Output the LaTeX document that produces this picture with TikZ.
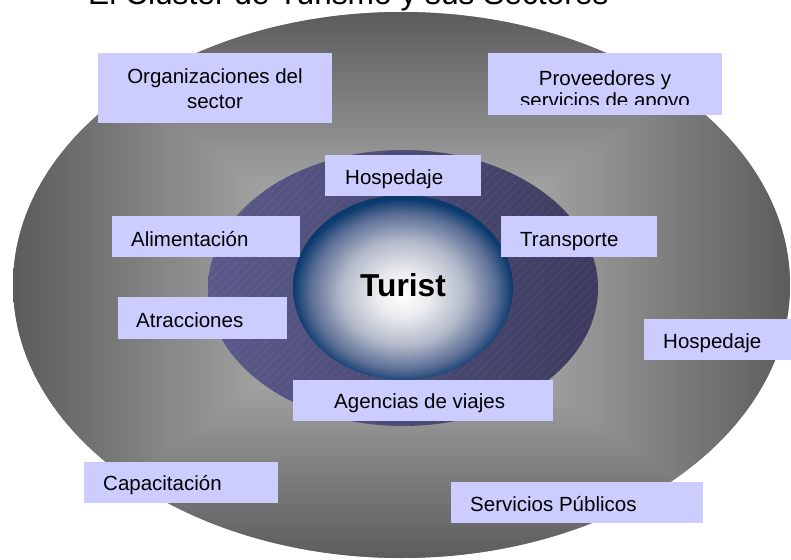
\documentclass[tikz,border=0pt]{standalone}
\usepackage{fontspec}
\setmainfont{Liberation Sans}
\usetikzlibrary{patterns.meta}
\definecolor{boxc}{HTML}{CCCCFF}
\definecolor{edgegray}{HTML}{5C5C5C}
\definecolor{halfgray}{HTML}{A4A4A4}
\definecolor{centergray}{HTML}{C8C8C8}
\definecolor{basegray}{HTML}{909090}
\definecolor{midleft}{HTML}{5B598A}
\definecolor{midright}{HTML}{3C3B5E}
\definecolor{tz}{HTML}{FFFFFF}
\definecolor{ta}{HTML}{ECECF0}
\definecolor{tb}{HTML}{B4BACA}
\definecolor{tc}{HTML}{5C6F96}
\definecolor{td}{HTML}{0B3A6E}
\pgfdeclareradialshading{turistshade}{\pgfpoint{0bp}{-2bp}}{color(0bp)=(tz); color(6bp)=(ta); color(14bp)=(tb); color(21bp)=(tc); color(25bp)=(td); color(50bp)=(td)}
\begin{document}
\begin{tikzpicture}[x=1pt,y=-1pt,
  lbl/.style={font=\fontsize{20.5}{23}\selectfont, inner sep=0pt, text=black},
  boxfill/.style={fill=boxc, draw=none}]
\useasboundingbox (0,0) rectangle (791,559);
\clip (0,0) rectangle (791,559);
\node[font=\fontsize{31.7}{36}\selectfont, anchor=base west, inner sep=0pt] (title) at (88,4.5) {El Cluster de Turismo y sus Sectores};
% outer ellipse with rectangular gradient
\coordinate (oc) at (401.5,285);
\begin{scope}
  \clip (oc) ellipse [x radius=388.5, y radius=273];
  \fill[basegray] (13,12) rectangle (790,558);
  \begin{scope}
    \clip (oc) -- (13,12) -- (790,12) -- cycle;
    \shade[top color=edgegray, middle color=halfgray, bottom color=centergray] (13,12) rectangle (790,285);
  \end{scope}
  \begin{scope}
    \clip (oc) -- (13,558) -- (790,558) -- cycle;
    \shade[top color=centergray, middle color=halfgray, bottom color=edgegray] (13,285) rectangle (790,558);
  \end{scope}
  \begin{scope}
    \clip (oc) -- (13,12) -- (13,558) -- cycle;
    \shade[left color=edgegray, middle color=halfgray, right color=centergray] (13,12) rectangle (401.5,558);
  \end{scope}
  \begin{scope}
    \clip (oc) -- (790,12) -- (790,558) -- cycle;
    \shade[left color=centergray, middle color=halfgray, right color=edgegray] (401.5,12) rectangle (790,558);
  \end{scope}
\end{scope}
% middle hatched ellipse
\coordinate (mc) at (403,288);
\shade[left color=midleft, right color=midright] (mc) ellipse [x radius=195, y radius=138];
\fill[pattern={Lines[angle=45,distance=6.4pt,line width=0.5pt]}, pattern color=white, fill opacity=0.22] (mc) ellipse [x radius=195, y radius=138];
% inner ellipse
\coordinate (ic) at (403,287.5);
\shade[shading=turistshade] (ic) ellipse [x radius=110, y radius=92.5];
\node[font=\fontsize{31.7}{36}\selectfont\bfseries, anchor=base west, inner sep=0pt] (turist) at (360,296) {Turist};
% boxes
\fill[boxfill] (98,53) rectangle (332,123);
\node[lbl, anchor=base] (org1) at (215,84) {Organizaciones del};
\node[lbl, anchor=base] (org2) at (215,108) {sector};
\fill[boxfill] (488,53) rectangle (722,115);
\node[lbl, anchor=base] (prov1) at (605,85) {Proveedores y};
\begin{scope}
  \clip (488,53) rectangle (722,105);
  \node[lbl, anchor=base] (prov2) at (605,107) {servicios de apoyo};
\end{scope}
\fill[boxfill] (325,155) rectangle (481,196);
\node[lbl, anchor=base west] (hosp1) at (345,184) {Hospedaje};
\fill[boxfill] (501,216) rectangle (657,257);
\node[lbl, anchor=base west] (trans) at (520,246) {Transporte};
\fill[boxfill] (112,216) rectangle (300,257);
\node[lbl, anchor=base west] (alim) at (131,246) {Alimentación};
\fill[boxfill] (118,297) rectangle (287,339);
\node[lbl, anchor=base west] (atrac) at (136,327) {Atracciones};
\fill[boxfill] (293,380) rectangle (553,421);
\node[lbl, anchor=base west] (agen) at (334,408) {Agencias de viajes};
\fill[boxfill] (644,319) rectangle (791,360);
\node[lbl, anchor=base west] (hosp2) at (663,348) {Hospedaje};
\fill[boxfill] (84,462) rectangle (278,503);
\node[lbl, anchor=base west] (capac) at (103,490) {Capacitación};
\fill[boxfill] (451,482) rectangle (703,523);
\node[lbl, anchor=base west] (serv) at (470,511) {Servicios Públicos};
\end{tikzpicture}
\end{document}
